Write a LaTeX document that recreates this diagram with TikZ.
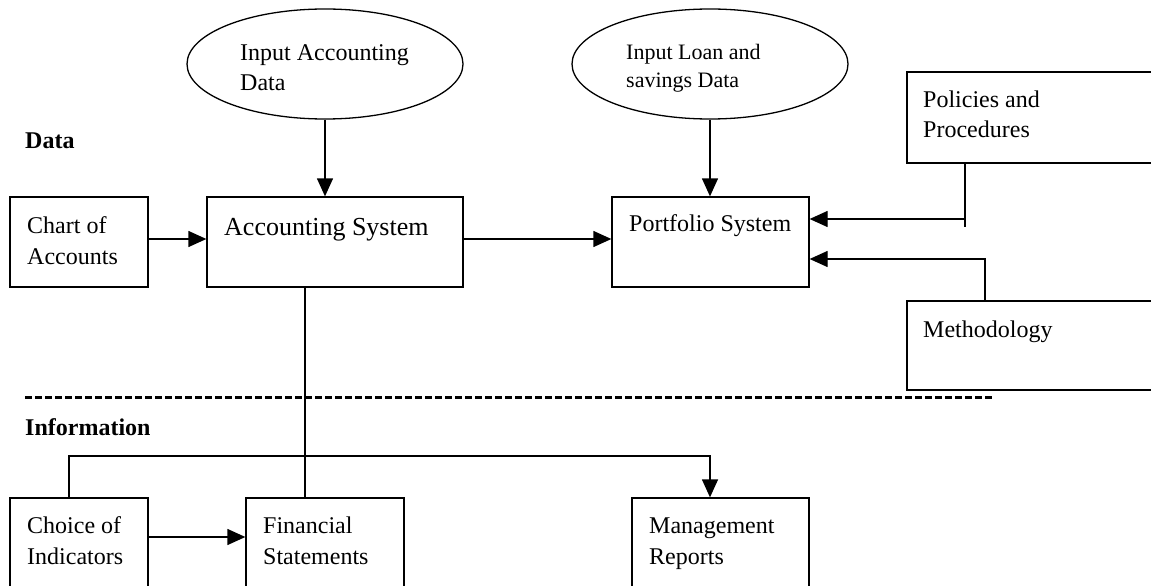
\documentclass[tikz,border=0pt]{standalone}
\usepackage{fontspec}
\setmainfont{Liberation Serif}
\usetikzlibrary{arrows.meta,shapes.geometric}
\tikzset{
  box/.style={draw, line width=1.3pt, rectangle, inner sep=0pt},
  oval/.style={draw, line width=1.3pt, ellipse, inner sep=0pt},
  txt/.style={inner sep=0pt, align=left, anchor=base west, font=\fontsize{24}{31}\selectfont},
  conn/.style={line width=1.3pt},
  arr/.style={line width=1.3pt, -{Triangle[length=18pt,width=16pt]}},
  sep/.style={line width=3pt, dash pattern=on 7pt off 3pt}
}
\begin{document}
\begin{tikzpicture}[x=1pt,y=-1pt]
\useasboundingbox (0,0) rectangle (1151,586);
% ellipses
\node[oval, minimum width=276, minimum height=110] (e1) at (325,64) {};
\node[oval, minimum width=276, minimum height=110] (e2) at (710,64) {};
% boxes
\node[box, minimum width=138, minimum height=90] (chart) at (79,242) {};
\node[box, minimum width=256, minimum height=90] (acct) at (335,242) {};
\node[box, minimum width=197, minimum height=90] (port) at (710.5,242) {};
\node[box, minimum width=260, minimum height=91] (pol) at (1037,117.5) {};
\node[box, minimum width=260, minimum height=89] (meth) at (1037,345.5) {};
\node[box, minimum width=138, minimum height=110] (choice) at (79,553) {};
\node[box, minimum width=158, minimum height=110] (fin) at (325,553) {};
\node[box, minimum width=177, minimum height=110] (mgmt) at (720.5,553) {};
% texts (base anchor = baseline of last line)
\node[txt, font=\fontsize{24}{29}\selectfont] (t1) at (240,90) {Input Accounting\\Data};
\node[txt, font=\fontsize{22}{28}\selectfont] (t2) at (626,87) {Input Loan and\\savings Data};
\node[txt, font=\bfseries\fontsize{24}{30}\selectfont] (ldata) at (25,148) {Data};
\node[txt] (t3) at (27,264) {Chart of\\Accounts};
\node[txt, font=\fontsize{26}{30}\selectfont] (t4) at (224,235) {Accounting System};
\node[txt] (t5) at (629,231) {Portfolio System};
\node[txt, font=\fontsize{24}{30}\selectfont] (t6) at (923,137) {Policies and\\Procedures};
\node[txt] (t7) at (923,337) {Methodology};
\node[txt, font=\bfseries\fontsize{24}{30}\selectfont] (linfo) at (25,435) {Information};
\node[txt] (t8) at (27,564) {Choice of\\Indicators};
\node[txt] (t9) at (263,564) {Financial\\Statements};
\node[txt] (t10) at (649,564) {Management\\Reports};
% separator
\coordinate (s1) at (25,397);
\coordinate (s2) at (992,397);
\draw[sep] (s1) -- (s2);
% connectors
\draw[arr] (e1.south) -- (e1.south |- acct.north);
\draw[arr] (e2.south) -- (e2.south |- port.north);
\coordinate (ca) at (0,239);
\draw[arr] (chart.east |- ca) -- (acct.west |- ca);
\draw[arr] (acct.east |- ca) -- (port.west |- ca);
\coordinate (pj) at (965,219);
\coordinate (pe) at (965,227);
\draw[conn] (pol.south -| pj) -- (pe);
\draw[arr] (pj) -- (pj -| port.east);
\coordinate (mj) at (985,259);
\draw[arr] (meth.north -| mj) -- (mj) -- (mj -| port.east);
\coordinate (fx) at (305,0);
\draw[conn] (acct.south -| fx) -- (fin.north -| fx);
\coordinate (cj) at (69,456);
\coordinate (mx) at (710,456);
\draw[arr] (choice.north -| cj) -- (cj) -- (mx) -- (mx |- mgmt.north);
\coordinate (fa) at (0,537);
\draw[arr] (choice.east |- fa) -- (fin.west |- fa);
\end{tikzpicture}
\end{document}
